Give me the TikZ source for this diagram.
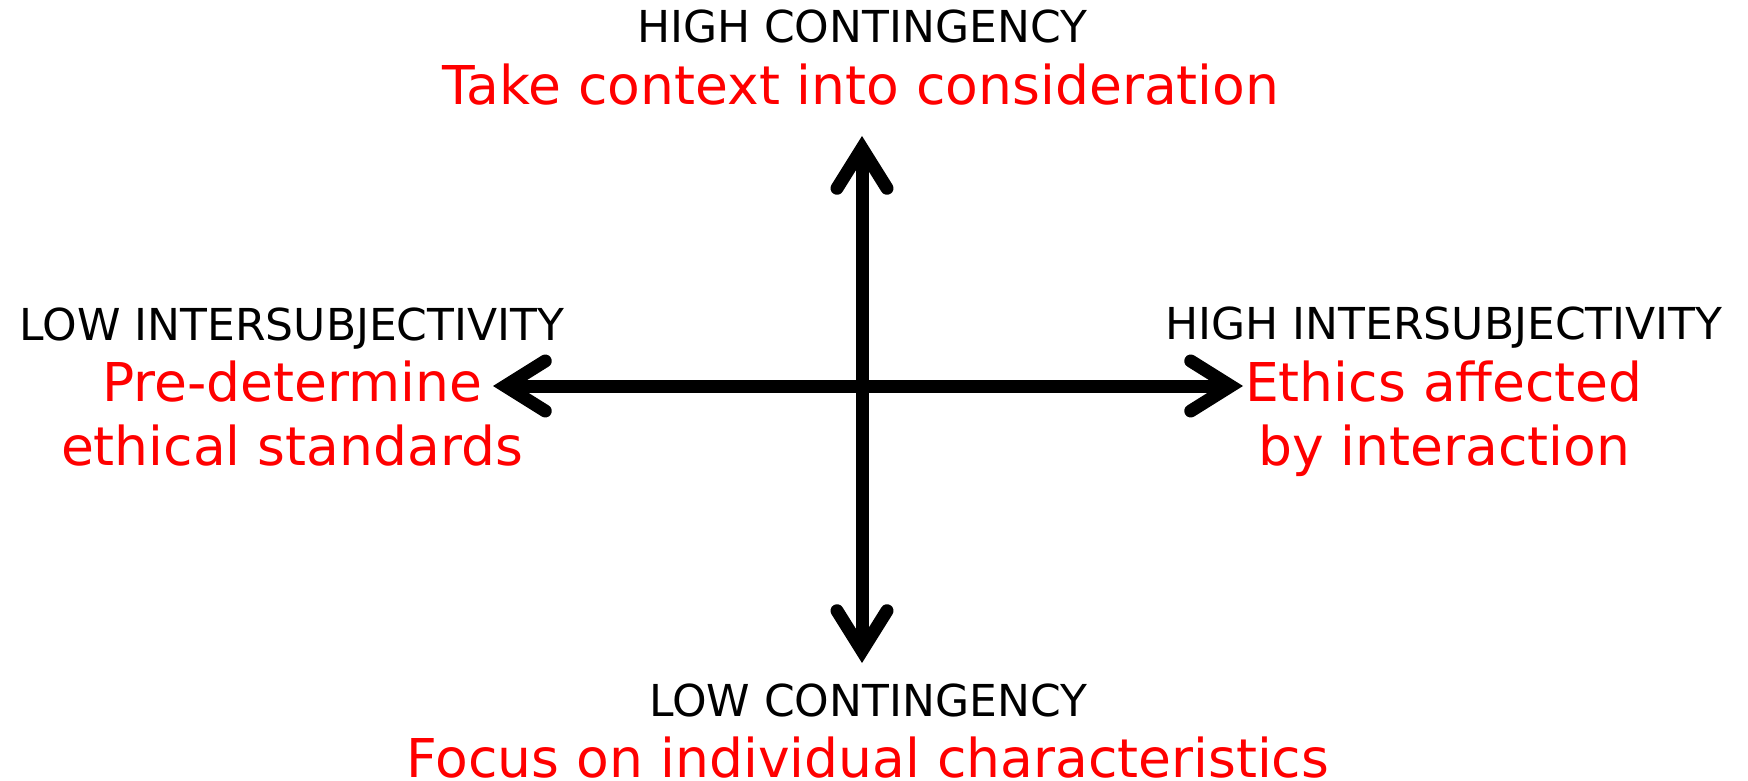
\documentclass[tikz,border=0pt]{standalone}
\usepackage{fontspec}
\setmainfont{DejaVu Sans}
\usetikzlibrary{arrows.meta}
\definecolor{labelred}{RGB}{255,0,0}
\tikzset{
  barbtip/.tip={Straight Barb[length=40pt, width=50pt, line cap=round, line join=miter]},
  axisline/.style={line width=13pt, black, barbtip-barbtip},
  poletitle/.style={anchor=base, inner sep=0pt, text=black, font=\fontsize{44pt}{52pt}\selectfont},
  polenote/.style={anchor=base, inner sep=0pt, text=labelred, align=center, font=\fontsize{53.5pt}{64pt}\selectfont},
}
\begin{document}
\begin{tikzpicture}[x=1pt, y=-1pt]
\useasboundingbox[fill=white] (0,0) rectangle (1748,781);
% axis end points
\coordinate (top) at (862,136);
\coordinate (bottom) at (862,663);
\coordinate (left) at (493,386);
\coordinate (right) at (1243,386);
% arrows
\draw[axisline] (left) -- (right);
\draw[axisline] (bottom) -- (top);
% labels
\node[poletitle] (hc) at (862,43) {HIGH CONTINGENCY};
\node[polenote] (hcnote) at (861,105) {Take context into consideration};
\node[poletitle] (lc) at (868,716) {LOW CONTINGENCY};
\node[polenote] (lcnote) at (868,777) {Focus on individual characteristics};
\node[poletitle] (li) at (292,340) {LOW INTERSUBJECTIVITY};
\node[polenote] (linote) at (292,465) {Pre-determine\\ethical standards};
\node[poletitle] (hi) at (1444,339) {HIGH INTERSUBJECTIVITY};
\node[polenote] (hinote) at (1444,465) {Ethics affected\\by interaction};
\end{tikzpicture}
\end{document}
